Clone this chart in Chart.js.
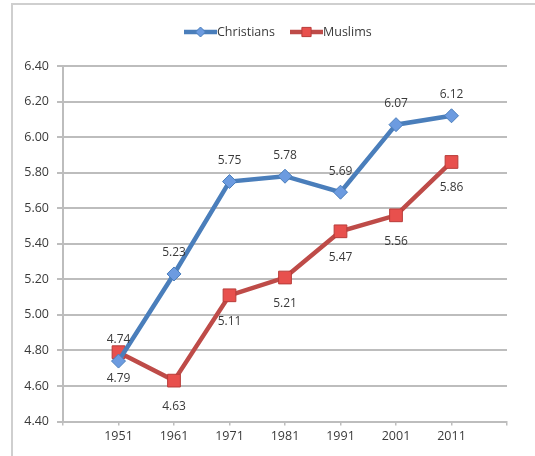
<!DOCTYPE html>
<html>
<head>
<meta charset="utf-8">
<script src="https://cdn.jsdelivr.net/npm/chart.js@4/dist/chart.umd.min.js"></script>
<style>
  html, body { margin: 0; padding: 0; background: #fff; }
  #wrap { width: 535px; height: 456px; position: relative; }
</style>
</head>
<body>
<div id="wrap"><canvas id="chart"></canvas></div>
<script>
// datos del gráfico
const years = [1951, 1961, 1971, 1981, 1991, 2001, 2011];
const christians = [4.74, 5.23, 5.75, 5.78, 5.69, 6.07, 6.12];
const muslims = [4.79, 4.63, 5.11, 5.21, 5.47, 5.56, 5.86];
const yTicks = [4.40, 4.60, 4.80, 5.00, 5.20, 5.40, 5.60, 5.80, 6.00, 6.20, 6.40];

const FONT = '"Open Sans", "DejaVu Sans", sans-serif';
const gridColor = '#bdbdbd';
const textColor = '#3a3a3a';

// marco gris alrededor del gráfico
const framePlugin = {
    id: 'frame',
    beforeDraw(chart) {
        const ctx = chart.ctx;
        ctx.save();
        ctx.strokeStyle = '#cfcfcf';
        ctx.lineWidth = 2;
        ctx.beginPath();
        ctx.moveTo(12, 456);
        ctx.lineTo(12, 4);
        ctx.lineTo(535, 4);
        ctx.stroke();
        ctx.restore();
    }
};

// leyenda estilo Excel: línea con marcador en el centro
const legendPlugin = {
    id: 'xlLegend',
    afterDraw(chart) {
        const ctx = chart.ctx;
        const items = [{ x: 184, ds: chart.data.datasets[0] }, { x: 290, ds: chart.data.datasets[1] }];
        ctx.save();
        ctx.font = '12.5px ' + FONT;
        ctx.textBaseline = 'middle';
        items.forEach(it => {
            const y = 32;
            ctx.strokeStyle = it.ds.borderColor;
            ctx.lineWidth = 4.5;
            ctx.beginPath();
            ctx.moveTo(it.x, y);
            ctx.lineTo(it.x + 33, y);
            ctx.stroke();
            ctx.fillStyle = it.ds.pointBackgroundColor;
            ctx.strokeStyle = it.ds.pointBorderColor;
            ctx.lineWidth = 1;
            Chart.helpers.drawPoint(ctx, {
                pointStyle: it.ds.pointStyle,
                radius: it.ds.pointStyle === 'rect' ? 6.5 : 5,
                borderWidth: 1
            }, it.x + 16.5, y);
            ctx.fillStyle = textColor;
            ctx.textAlign = 'left';
            ctx.fillText(it.ds.label, it.x + 33, y);
        });
        ctx.restore();
    }
};

// etiquetas de valores sobre/bajo cada punto
const valueLabels = {
    id: 'valueLabels',
    afterDatasetsDraw(chart) {
        const ctx = chart.ctx;
        ctx.save();
        ctx.font = '12px ' + FONT;
        ctx.fillStyle = textColor;
        ctx.textAlign = 'center';
        ctx.textBaseline = 'middle';
        chart.data.datasets.forEach((ds, i) => {
            const meta = chart.getDatasetMeta(i);
            meta.data.forEach((pt, j) => {
                ctx.fillText(ds.data[j].y.toFixed(2), pt.x, pt.y + ds.labelOffset);
            });
        });
        ctx.restore();
    }
};

new Chart(document.getElementById('chart'), {
    type: 'line',
    data: {
        datasets: [{
            label: 'Christians',
            data: years.map((y, i) => ({ x: y, y: christians[i] })),
            borderColor: '#4a7ebb',
            borderWidth: 4.5,
            pointStyle: 'rectRot',
            pointRadius: 7,
            pointBackgroundColor: '#6c9be0',
            pointBorderColor: '#4a7ebb',
            pointBorderWidth: 1,
            labelOffset: -21,
            tension: 0
        }, {
            label: 'Muslims',
            data: years.map((y, i) => ({ x: y, y: muslims[i] })),
            borderColor: '#be4b48',
            borderWidth: 4.5,
            pointStyle: 'rect',
            pointRadius: 9,
            pointBackgroundColor: '#e8504d',
            pointBorderColor: '#b83c39',
            pointBorderWidth: 1,
            labelOffset: 26,
            tension: 0
        }]
    },
    options: {
        responsive: true,
        maintainAspectRatio: false,
        animation: false,
        layout: { padding: { left: 13, right: 28, top: 66, bottom: 10 } },
        plugins: {
            legend: { display: false },
            tooltip: { enabled: false }
        },
        scales: {
            x: {
                type: 'linear',
                min: 1941,
                max: 2021,
                afterFit: s => { s.height = 24.5; },
                afterBuildTicks: s => { s.ticks = [1941].concat(years, [2021]).map(v => ({ value: v })); },
                ticks: {
                    color: textColor,
                    font: { family: FONT, size: 12.5 },
                    padding: 3,
                    maxRotation: 0,
                    callback: v => years.includes(v) ? String(v) : ''
                },
                grid: { drawOnChartArea: false, tickLength: 4, color: gridColor, lineWidth: 1.5 },
                border: { color: gridColor, width: 2 }
            },
            y: {
                min: 4.4,
                max: 6.4,
                afterFit: s => { s.width = 50; },
                afterBuildTicks: s => { s.ticks = yTicks.map(v => ({ value: v })); },
                ticks: {
                    color: textColor,
                    font: { family: FONT, size: 12.5 },
                    padding: 8,
                    callback: v => v.toFixed(2)
                },
                grid: { color: gridColor, lineWidth: 2, tickLength: 6 },
                border: { color: gridColor, width: 2 }
            }
        }
    },
    plugins: [framePlugin, legendPlugin, valueLabels]
});
</script>
</body>
</html>
